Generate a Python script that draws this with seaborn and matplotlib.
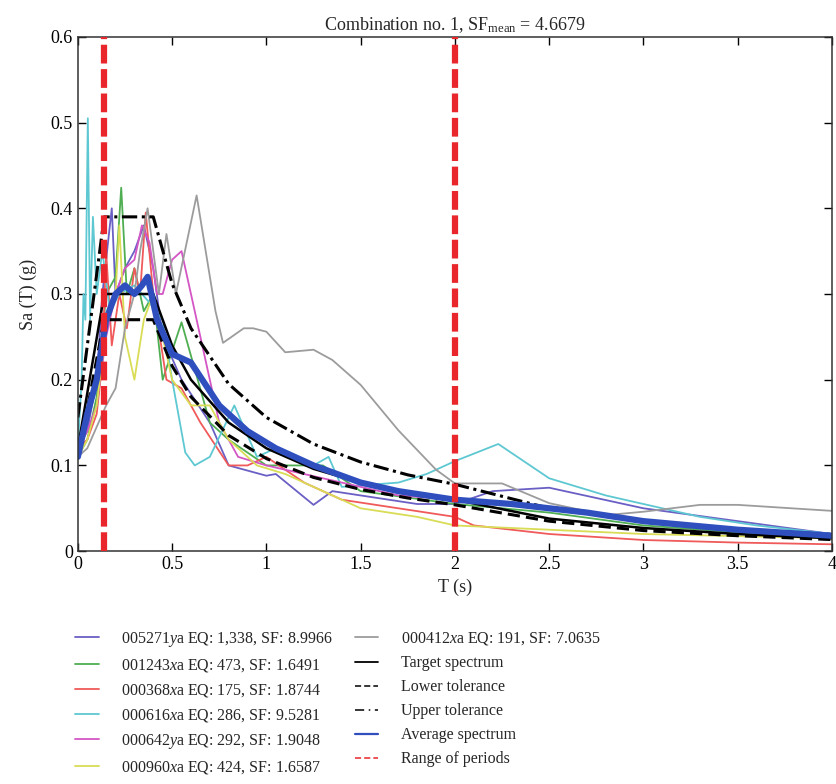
import matplotlib
matplotlib.use("Agg")
import matplotlib.pyplot as plt
import seaborn as sns
from matplotlib.lines import Line2D

# periods (s) and spectral accelerations (g)
t_005271 = [0, 0.05, 0.1, 0.13, 0.16, 0.18, 0.2, 0.25, 0.3, 0.35, 0.4, 0.45, 0.55, 0.7, 0.8, 1.0, 1.05, 1.25, 1.35, 1.5, 1.8, 2.0, 2.2, 2.5, 3.0, 3.5, 4.0]
sa_005271 = [0.12, 0.14, 0.2, 0.3, 0.36, 0.4, 0.3, 0.33, 0.35, 0.38, 0.33, 0.25, 0.2, 0.15, 0.1, 0.088, 0.09, 0.054, 0.07, 0.065, 0.055, 0.055, 0.07, 0.074, 0.05, 0.035, 0.02]

t_001243 = [0, 0.05, 0.1, 0.15, 0.2, 0.23, 0.26, 0.3, 0.35, 0.4, 0.45, 0.55, 0.7, 0.8, 1.0, 1.3, 1.5, 2.0, 2.5, 3.0, 3.5, 4.0]
sa_001243 = [0.11, 0.13, 0.18, 0.3, 0.32, 0.424, 0.3, 0.33, 0.28, 0.3, 0.2, 0.267, 0.15, 0.13, 0.1, 0.1, 0.07, 0.055, 0.045, 0.03, 0.022, 0.015]

t_000368 = [0, 0.05, 0.1, 0.13, 0.15, 0.18, 0.22, 0.26, 0.3, 0.33, 0.36, 0.4, 0.47, 0.55, 0.65, 0.8, 0.9, 1.0, 1.2, 1.4, 1.7, 2.0, 2.1, 2.5, 3.0, 3.5, 4.0]
sa_000368 = [0.12, 0.13, 0.16, 0.22, 0.35, 0.24, 0.3, 0.26, 0.33, 0.3, 0.395, 0.3, 0.2, 0.19, 0.15, 0.1, 0.1, 0.11, 0.08, 0.06, 0.05, 0.04, 0.03, 0.02, 0.013, 0.01, 0.008]

t_000616 = [0, 0.02, 0.03, 0.04, 0.053, 0.065, 0.08, 0.1, 0.13, 0.17, 0.22, 0.3, 0.38, 0.45, 0.5, 0.57, 0.62, 0.7, 0.83, 0.95, 1.05, 1.25, 1.33, 1.4, 1.7, 1.85, 2.0, 2.23, 2.5, 2.8, 3.3, 3.6, 4.0]
sa_000616 = [0.12, 0.2, 0.3, 0.27, 0.505, 0.27, 0.39, 0.3, 0.35, 0.28, 0.3, 0.31, 0.29, 0.27, 0.2, 0.115, 0.1, 0.11, 0.17, 0.11, 0.12, 0.1, 0.11, 0.075, 0.08, 0.09, 0.105, 0.125, 0.085, 0.065, 0.04, 0.03, 0.02]

t_000642 = [0, 0.05, 0.1, 0.15, 0.2, 0.25, 0.3, 0.34, 0.38, 0.42, 0.45, 0.5, 0.55, 0.6, 0.75, 0.85, 1.0, 1.2, 1.4, 1.7, 2.0, 2.5, 3.0, 3.5, 4.0]
sa_000642 = [0.12, 0.14, 0.17, 0.25, 0.3, 0.33, 0.34, 0.38, 0.36, 0.3, 0.3, 0.34, 0.35, 0.3, 0.15, 0.11, 0.1, 0.09, 0.08, 0.065, 0.06, 0.05, 0.035, 0.025, 0.015]

t_000960 = [0, 0.05, 0.1, 0.15, 0.2, 0.22, 0.25, 0.3, 0.35, 0.4, 0.5, 0.6, 0.7, 0.8, 0.95, 1.1, 1.3, 1.5, 1.8, 2.0, 2.5, 3.0, 4.0]
sa_000960 = [0.11, 0.13, 0.17, 0.26, 0.3, 0.38, 0.25, 0.2, 0.27, 0.3, 0.2, 0.17, 0.17, 0.13, 0.1, 0.09, 0.07, 0.05, 0.04, 0.03, 0.025, 0.02, 0.015]

t_000412 = [0, 0.05, 0.15, 0.2, 0.25, 0.3, 0.33, 0.37, 0.43, 0.47, 0.52, 0.63, 0.73, 0.77, 0.88, 0.93, 1.0, 1.1, 1.25, 1.35, 1.5, 1.7, 1.9, 2.0, 2.25, 2.5, 2.8, 3.0, 3.3, 3.5, 4.0]
sa_000412 = [0.11, 0.12, 0.17, 0.19, 0.26, 0.3, 0.35, 0.4, 0.3, 0.37, 0.3, 0.415, 0.28, 0.243, 0.26, 0.26, 0.256, 0.232, 0.235, 0.223, 0.194, 0.141, 0.095, 0.079, 0.079, 0.056, 0.042, 0.046, 0.054, 0.054, 0.047]

t_target = [0, 0.14, 0.4, 0.5, 0.6, 0.8, 1.0, 1.25, 1.5, 1.75, 2.0, 2.5, 3.0, 3.5, 4.0]
sa_target = [0.12, 0.3, 0.3, 0.24, 0.2, 0.15, 0.12, 0.096, 0.08, 0.069, 0.06, 0.038, 0.027, 0.02, 0.015]
sa_lower = [0.108, 0.27, 0.27, 0.216, 0.18, 0.135, 0.108, 0.086, 0.072, 0.062, 0.054, 0.035, 0.024, 0.018, 0.0135]
sa_upper = [0.156, 0.39, 0.39, 0.312, 0.26, 0.195, 0.156, 0.125, 0.104, 0.089, 0.078, 0.05, 0.035, 0.025, 0.0195]

t_avg = [0, 0.05, 0.1, 0.15, 0.2, 0.25, 0.3, 0.34, 0.37, 0.42, 0.5, 0.6, 0.75, 0.9, 1.05, 1.25, 1.5, 1.7, 2.0, 2.3, 2.7, 3.0, 3.5, 4.0]
sa_avg = [0.11, 0.16, 0.2, 0.27, 0.3, 0.31, 0.3, 0.31, 0.32, 0.27, 0.23, 0.22, 0.17, 0.14, 0.12, 0.1, 0.08, 0.07, 0.06, 0.055, 0.045, 0.035, 0.025, 0.018]

period_range = [0.14, 2.0]

records = [
    ("005271$\\it{y}$a EQ: 1,338, SF: 8.9966", t_005271, sa_005271, "#6a5fc4"),
    ("001243$\\it{x}$a EQ: 473, SF: 1.6491", t_001243, sa_001243, "#4fae52"),
    ("000368$\\it{x}$a EQ: 175, SF: 1.8744", t_000368, sa_000368, "#f05a5a"),
    ("000616$\\it{x}$a EQ: 286, SF: 9.5281", t_000616, sa_000616, "#5ec8d2"),
    ("000642$\\it{y}$a EQ: 292, SF: 1.9048", t_000642, sa_000642, "#d455c4"),
    ("000960$\\it{x}$a EQ: 424, SF: 1.6587", t_000960, sa_000960, "#d9dc55"),
    ("000412$\\it{x}$a EQ: 191, SF: 7.0635", t_000412, sa_000412, "#9c9c9c"),
]

sns.set_style("ticks")
plt.rcParams["font.family"] = ["Liberation Serif", "DejaVu Serif"]
plt.rcParams["mathtext.fontset"] = "custom"
plt.rcParams["mathtext.rm"] = "Liberation Serif"
plt.rcParams["mathtext.it"] = "Liberation Serif:italic"

fig = plt.figure(figsize=(8.37, 7.84), dpi=100)
ax = fig.add_axes([0.093, 0.297, 0.901, 0.656])

handles = []
for label, t, sa, color in records:
    sns.lineplot(x=t, y=sa, ax=ax, color=color, linewidth=1.3)
    handles.append(Line2D([], [], color=color, lw=1.3, label=label))

sns.lineplot(x=t_target, y=sa_target, ax=ax, color="black", linewidth=1.8)
sns.lineplot(x=t_target, y=sa_lower, ax=ax, color="black", linewidth=2.2, linestyle=(0, (4, 2)))
sns.lineplot(x=t_target, y=sa_upper, ax=ax, color="black", linewidth=2.2, linestyle=(0, (5, 1.5, 1, 1.5)))
sns.lineplot(x=t_avg, y=sa_avg, ax=ax, color="#2f4fbf", linewidth=4.5)
for p in period_range:
    ax.axvline(p, color="#e8262b", linewidth=4.5, linestyle=(0, (3, 0.9)), zorder=5)

handles += [
    Line2D([], [], color="black", lw=1.3, label="Target spectrum"),
    Line2D([], [], color="black", lw=1.1, ls=(0, (4, 2)), label="Lower tolerance"),
    Line2D([], [], color="black", lw=1.1, ls=(0, (6, 3, 1, 3)), label="Upper tolerance"),
    Line2D([], [], color="#2f4fbf", lw=1.6, label="Average spectrum"),
    Line2D([], [], color="#e8262b", lw=1.1, ls=(0, (4, 2)), label="Range of periods"),
]

ax.set_xlim(0, 4)
ax.set_ylim(0, 0.6)
ax.set_xticks([0, 0.5, 1, 1.5, 2, 2.5, 3, 3.5, 4])
ax.set_xticklabels(["0", "0.5", "1", "1.5", "2", "2.5", "3", "3.5", "4"])
ax.set_yticks([0, 0.1, 0.2, 0.3, 0.4, 0.5, 0.6])
ax.set_yticklabels(["0", "0.1", "0.2", "0.3", "0.4", "0.5", "0.6"])
ax.tick_params(direction="in", top=True, right=True, labelsize=13, length=6, width=1, colors="black")
for s in ax.spines.values():
    s.set_linewidth(1.1)
    s.set_color("#333333")
ax.set_xlabel("T (s)", fontsize=13, labelpad=4)
ax.set_ylabel("Sa (T) (g)", fontsize=13, labelpad=10)
ax.set_title("Combination no. 1, SF$_{\\mathrm{mean}}$ = 4.6679", fontsize=13, pad=5)

fig.legend(handles=handles, loc="upper left", bbox_to_anchor=(0.073, 0.215), ncol=2,
           frameon=False, fontsize=11.5, handlelength=1.45, labelspacing=0.5, columnspacing=1.4,
           handletextpad=1.4)

fig.savefig("out.png", dpi=100)
